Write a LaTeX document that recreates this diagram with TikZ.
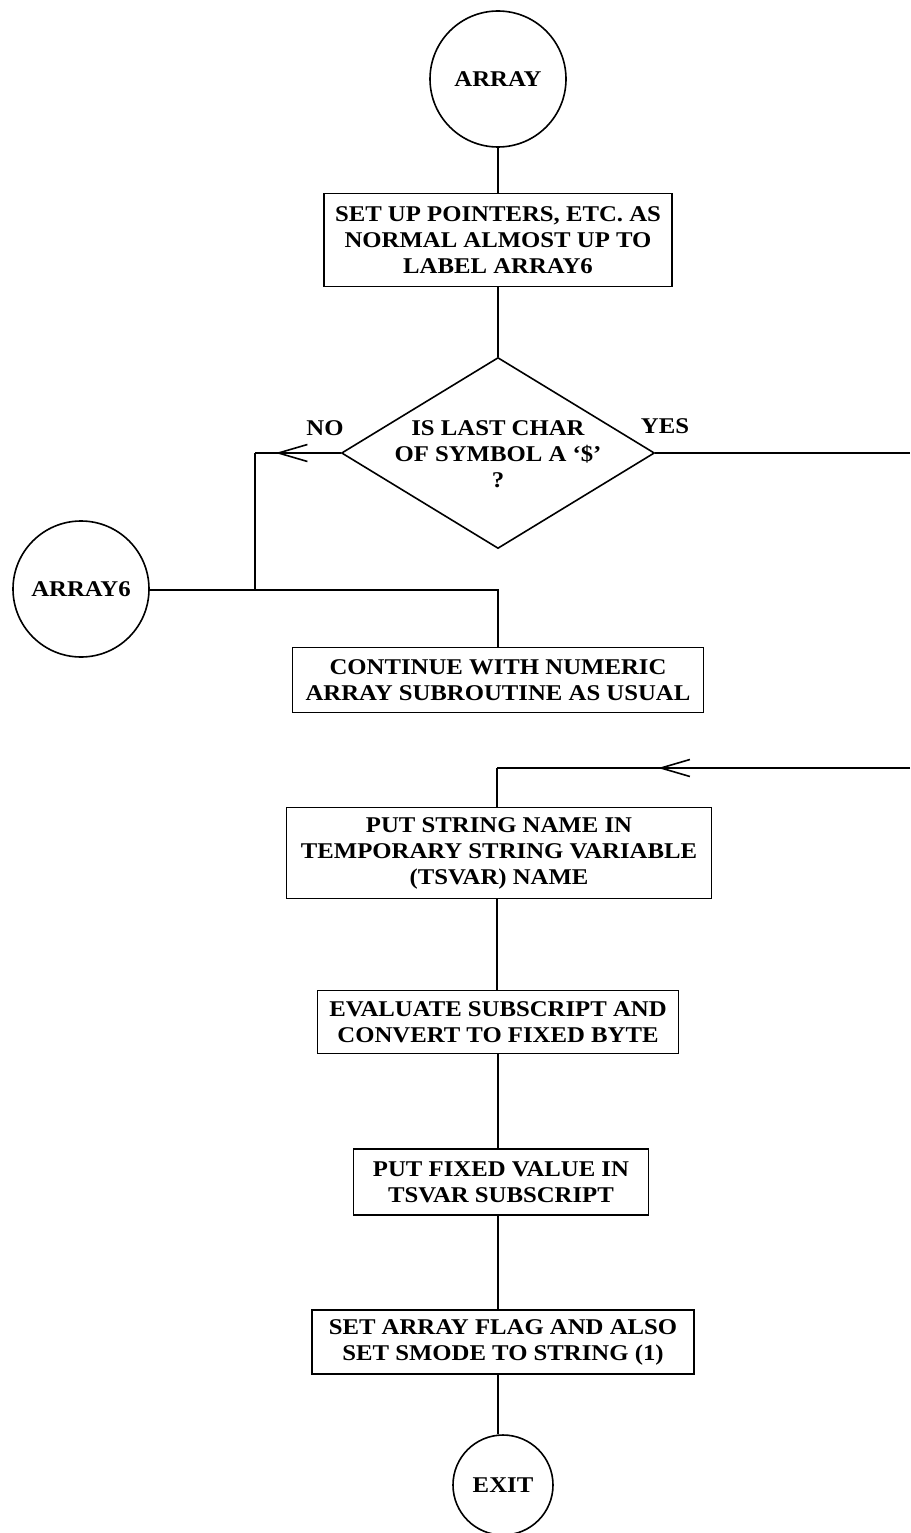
\documentclass[tikz,border=0pt]{standalone}
\usepackage{fontspec}
\setmainfont{Liberation Serif}[FakeStretch=1.1]
\usetikzlibrary{shapes.geometric,arrows.meta,decorations.markings}
\tikzset{
  ln/.style={line width=1.6pt},
  procbox/.style={draw, line width=1.6pt, rectangle, inner sep=0pt, align=center},
  term/.style={draw, line width=1.6pt, circle, inner sep=0pt},
  lbl/.style={inner sep=0pt, align=center},
  barb/.style={postaction={decorate}, decoration={markings, mark=at position #1 with {\arrow[line width=1.6pt]{Straight Barb[length=29pt,width=17pt]}}}}
}
\begin{document}
\begin{tikzpicture}[x=1pt,y=-1pt,font=\bfseries\fontsize{22.5}{26}\selectfont]
\useasboundingbox (0,0) rectangle (910,1533);
\node[term, minimum size=136] (arr) at (498,79) {ARRAY};
\node[procbox, minimum width=348, minimum height=93] (b1) at (498,240) {SET UP POINTERS, ETC. AS\\NORMAL ALMOST UP TO\\LABEL ARRAY6};
\node[diamond, draw, line width=1.6pt, inner sep=0pt, minimum width=313, minimum height=191] (dia) at (498,453) {};
\node[lbl] (diatxt) at (498,454) {IS LAST CHAR\\OF SYMBOL A `\$'\\?};
\node[lbl] (no) at (325,428) {NO};
\node[lbl] (yes) at (665,426) {YES};
\node[term, minimum size=136] (a6) at (81,589) {ARRAY6};
\node[procbox, minimum width=411, minimum height=65] (cont) at (498,680) {CONTINUE WITH NUMERIC\\ARRAY SUBROUTINE AS USUAL};
\node[procbox, minimum width=425, minimum height=91] (put) at (499,853) {PUT STRING NAME IN\\TEMPORARY STRING VARIABLE\\(TSVAR) NAME};
\node[procbox, minimum width=361, minimum height=63] (eval) at (498,1022) {EVALUATE SUBSCRIPT AND\\CONVERT TO FIXED BYTE};
\node[procbox, minimum width=295, minimum height=66] (fix) at (501,1182) {PUT FIXED VALUE IN\\TSVAR SUBSCRIPT};
\node[procbox, minimum width=382, minimum height=64] (flag) at (503,1342) {SET ARRAY FLAG AND ALSO\\SET SMODE TO STRING (1)};
\node[term, minimum size=100] (exit) at (503,1485) {EXIT};
\coordinate (j1) at (255,453);
\coordinate (j2) at (255,590);
\coordinate (e1) at (910,453);
\coordinate (e2) at (910,768);
\coordinate (e3) at (497,768);
\draw[ln] (arr) -- (b1);
\draw[ln] (b1.south) -- (dia.north);
\draw[ln, barb=0.76] (dia.west) -- (j1);
\draw[ln] (j1) -- (j2);
\draw[ln] (a6.east |- j2) -- (j2) -| (cont.north);
\draw[ln] (dia.east) -- (e1);
\draw[ln, barb=0.61] (e2) -- (e3);
\draw[ln] (e3) -- (put.north -| e3);
\draw[ln] (put.south -| e3) -- (eval.north -| e3);
\draw[ln] (eval.south) -- (fix.north -| eval.south);
\draw[ln] (fix.south -| eval.south) -- (flag.north -| eval.south);
\draw[ln] (flag.south -| eval.south) -- (exit.north -| eval.south);
\end{tikzpicture}
\end{document}
